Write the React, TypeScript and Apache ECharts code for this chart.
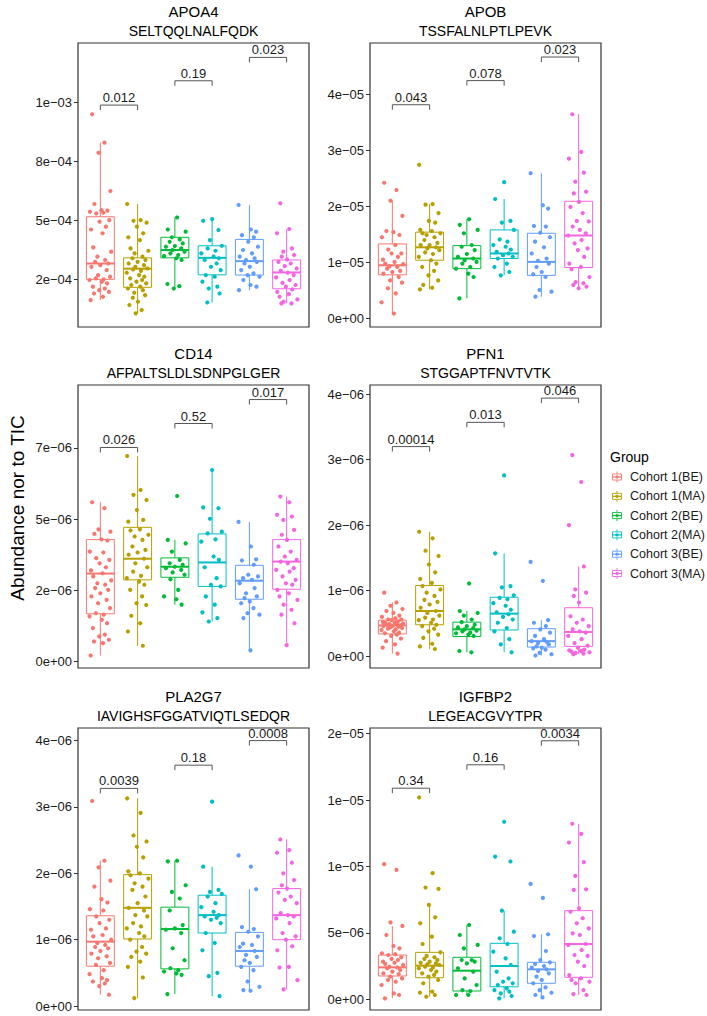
import React, { useEffect, useRef } from "react";
import * as echarts from "echarts";

const GROUPS = ["Cohort 1(BE)", "Cohort 1(MA)", "Cohort 2(BE)", "Cohort 2(MA)", "Cohort 3(BE)", "Cohort 3(MA)"];
const COLORS = ["#F8766D", "#B79F00", "#00BA38", "#00BFC4", "#619CFF", "#F564E3"];
const PAIRS = [[1, 2], [3, 4], [5, 6]];
// fixed horizontal jitter offsets (category units)
const JITTER = [-0.22, 0.11, -0.05, 0.27, -0.16, 0.03, 0.19, -0.28, 0.08, -0.11, 0.24, -0.02, 0.15, -0.25, 0.06, -0.19, 0.29, -0.08, 0.13, -0.14, 0.21, 0.0, -0.24, 0.17, -0.06, 0.26, -0.12, 0.09, -0.29, 0.04, 0.18, -0.2, 0.12, -0.03, 0.23, -0.17, 0.07, -0.26, 0.14, -0.09, 0.2, -0.13, 0.01];

// ---------- APOA4 (x1e-4) ----------
const APOA4_SCALE = 1e-4;
const APOA4_POINTS = [
  [9.48, 8.28, 7.85, 6.23, 5.68, 5.42, 5.4, 5.35, 5.31, 5.28, 5.0, 4.93, 4.72, 4.6, 4.44, 3.84, 3.66, 3.45, 3.31, 3.23, 3.16, 3.09, 3.02, 2.88, 2.67, 2.6, 2.53, 2.49, 2.46, 2.39, 2.32, 2.18, 2.1, 2.03, 1.96, 1.89, 1.75, 1.61],
  [5.68, 5.0, 4.97, 4.89, 4.72, 4.44, 4.27, 4.15, 3.8, 3.7, 3.59, 3.45, 3.38, 3.31, 3.23, 3.16, 3.09, 3.02, 2.95, 2.91, 2.85, 2.77, 2.67, 2.6, 2.53, 2.46, 2.39, 2.32, 2.25, 2.18, 2.1, 2.03, 1.92, 1.82, 1.71, 1.54, 1.4, 1.19, 1.05],
  [5.11, 4.6, 4.51, 4.27, 4.18, 4.08, 4.01, 3.9, 3.87, 3.8, 3.73, 3.66, 3.59, 3.52, 3.47, 3.38, 3.31, 2.29, 2.2, 2.1],
  [5.04, 4.97, 4.58, 4.15, 3.91, 3.8, 3.7, 3.59, 3.45, 3.38, 3.31, 3.16, 3.02, 2.88, 2.67, 2.6, 2.39, 2.18, 2.1, 1.89, 1.51],
  [5.64, 4.6, 4.51, 4.36, 4.27, 4.08, 3.87, 3.73, 3.59, 3.45, 3.38, 3.31, 3.23, 3.16, 3.02, 2.88, 2.74, 2.67, 2.6, 2.46, 2.25, 2.18, 2.03],
  [5.71, 4.62, 4.44, 3.8, 3.66, 3.52, 3.45, 3.33, 3.23, 3.16, 3.05, 2.95, 2.85, 2.77, 2.67, 2.57, 2.46, 2.34, 2.25, 2.18, 2.06, 1.96, 1.86, 1.75, 1.64, 1.54, 1.47, 1.47],
];
const APOA4_BOX = [[1.61, 2.49, 3.16, 5.14, 8.28], [1.05, 2.15, 2.94, 3.4, 5.68], [2.1, 3.4, 3.73, 4.27, 5.11], [1.51, 2.68, 3.4, 3.91, 5.04], [2.03, 2.67, 3.26, 4.18, 5.64], [1.47, 2.09, 2.78, 3.31, 4.62]];
const APOA4_BRACKET_Y = [9.87, 10.9, 11.89];
const APOA4_P = ["0.012", "0.19", "0.023"];
const APOA4_TICKS = [2.5, 5, 7.5, 10];
const APOA4_TICK_LABELS = ["2e\u221204", "5e\u221204", "8e\u221204", "1e\u221203"];
const APOA4_RANGE = [0.47, 12.5];

// ---------- APOB (x1e-5) ----------
const APOB_SCALE = 1e-5;
const APOB_POINTS = [
  [2.42, 2.29, 2.1, 1.83, 1.56, 1.54, 1.49, 1.45, 1.31, 1.23, 1.16, 1.16, 1.1, 1.05, 1.01, 0.98, 0.97, 0.93, 0.92, 0.89, 0.85, 0.83, 0.8, 0.74, 0.68, 0.64, 0.54, 0.45, 0.29, 0.09],
  [2.74, 2.04, 2.03, 1.88, 1.74, 1.71, 1.58, 1.56, 1.52, 1.52, 1.49, 1.45, 1.4, 1.35, 1.31, 1.31, 1.27, 1.25, 1.22, 1.18, 1.15, 1.1, 1.04, 0.98, 0.92, 0.85, 0.77, 0.68, 0.6, 0.55, 0.52],
  [1.77, 1.67, 1.58, 1.52, 1.31, 1.28, 1.22, 1.15, 1.1, 1.07, 1.04, 1.01, 0.98, 0.92, 0.89, 0.8, 0.74, 0.36],
  [2.43, 2.13, 1.74, 1.71, 1.58, 1.41, 1.37, 1.31, 1.28, 1.23, 1.19, 1.16, 1.13, 1.1, 1.07, 0.98, 0.92, 0.83, 0.77],
  [2.59, 2.02, 1.96, 1.65, 1.64, 1.53, 1.45, 1.37, 1.27, 1.16, 1.07, 1.03, 0.98, 0.92, 0.83, 0.79, 0.74, 0.51, 0.48, 0.39],
  [3.64, 2.97, 2.85, 2.6, 2.44, 2.26, 2.23, 2.08, 1.99, 1.88, 1.74, 1.73, 1.64, 1.58, 1.52, 1.48, 1.4, 1.34, 1.25, 1.22, 1.1, 0.98, 0.92, 0.88, 0.74, 0.65, 0.63, 0.6, 0.57, 0.54],
];
const APOB_BOX = [[0.09, 0.78, 0.95, 1.33, 2.1], [0.52, 1.04, 1.27, 1.54, 2.04], [0.36, 0.89, 1.07, 1.3, 1.77], [0.77, 1.07, 1.16, 1.58, 2.13], [0.39, 0.77, 1.01, 1.52, 2.59], [0.54, 0.91, 1.48, 2.09, 3.64]];
const APOB_BRACKET_Y = [3.81, 4.24, 4.66];
const APOB_P = ["0.043", "0.078", "0.023"];
const APOB_TICKS = [0, 1, 2, 3, 4];
const APOB_TICK_LABELS = ["0e+00", "1e\u221205", "2e\u221205", "3e\u221205", "4e\u221205"];
const APOB_RANGE = [-0.15, 4.91];

// ---------- CD14 (x1e-6) ----------
const CD14_SCALE = 1e-6;
const CD14_POINTS = [
  [5.59, 5.38, 4.64, 4.56, 4.48, 4.29, 4.25, 3.86, 3.83, 3.63, 3.57, 3.45, 3.31, 3.2, 3.1, 2.99, 2.85, 2.75, 2.7, 2.58, 2.52, 2.4, 2.29, 2.17, 2.05, 1.88, 1.7, 1.65, 1.59, 1.47, 1.35, 1.18, 0.95, 0.89, 0.77, 0.71, 0.65, 0.22],
  [7.21, 6.02, 5.85, 5.67, 5.32, 4.97, 4.91, 4.64, 4.6, 4.45, 4.39, 4.27, 4.04, 3.92, 3.83, 3.75, 3.61, 3.45, 3.31, 3.16, 3.01, 2.93, 2.81, 2.7, 2.52, 2.29, 2.05, 1.99, 1.61, 1.35, 1.06, 0.56],
  [5.81, 4.27, 4.15, 3.86, 3.57, 3.45, 3.4, 3.33, 3.28, 3.22, 3.13, 3.05, 2.89, 2.52, 2.29, 2.19, 2.0],
  [6.72, 5.41, 5.38, 5.01, 4.56, 4.5, 4.29, 4.21, 3.69, 3.57, 3.31, 2.93, 2.7, 2.64, 2.29, 2.0, 1.73, 1.53, 1.41],
  [4.9, 4.04, 3.59, 3.55, 3.4, 3.05, 2.99, 2.93, 2.87, 2.75, 2.58, 2.4, 2.29, 2.23, 2.11, 2.05, 1.88, 1.7, 1.65, 1.53, 0.4],
  [5.79, 5.59, 5.15, 5.09, 4.97, 4.62, 4.45, 4.27, 4.04, 3.86, 3.69, 3.57, 3.51, 3.45, 3.28, 3.22, 3.16, 2.99, 2.87, 2.75, 2.7, 2.52, 2.4, 2.29, 2.17, 2.0, 1.82, 1.65, 1.35, 0.58],
];
const CD14_BOX = [[0.22, 1.68, 3.09, 4.28, 5.59], [0.56, 2.87, 3.61, 4.71, 7.21], [2.0, 2.96, 3.33, 3.64, 4.27], [1.41, 2.64, 3.48, 4.48, 6.72], [0.4, 2.19, 2.84, 3.38, 4.9], [0.58, 2.54, 3.51, 4.28, 5.79]];
const CD14_BRACKET_Y = [7.51, 8.35, 9.19];
const CD14_P = ["0.026", "0.52", "0.017"];
const CD14_TICKS = [0, 2.5, 5, 7.5];
const CD14_TICK_LABELS = ["0e+00", "2e\u221206", "5e\u221206", "7e\u221206"];
const CD14_RANGE = [-0.22, 9.7];

// ---------- PFN1 (x1e-6) ----------
const PFN1_SCALE = 1e-6;
const PFN1_POINTS = [
  [0.97, 0.82, 0.77, 0.72, 0.69, 0.66, 0.62, 0.6, 0.58, 0.56, 0.56, 0.55, 0.53, 0.52, 0.51, 0.51, 0.5, 0.49, 0.48, 0.48, 0.47, 0.46, 0.46, 0.45, 0.44, 0.43, 0.42, 0.41, 0.4, 0.38, 0.36, 0.35, 0.33, 0.31, 0.27, 0.23, 0.18, 0.13, 0.04],
  [1.9, 1.8, 1.61, 1.53, 1.4, 1.28, 1.18, 1.12, 1.07, 1.02, 0.97, 0.92, 0.86, 0.83, 0.79, 0.74, 0.69, 0.66, 0.62, 0.59, 0.56, 0.55, 0.51, 0.48, 0.46, 0.42, 0.38, 0.33, 0.28, 0.19, 0.15, 0.11],
  [1.11, 0.69, 0.66, 0.62, 0.56, 0.52, 0.48, 0.46, 0.44, 0.43, 0.41, 0.39, 0.38, 0.36, 0.35, 0.33, 0.31, 0.08, 0.06],
  [2.76, 1.57, 1.07, 1.05, 0.93, 0.89, 0.87, 0.81, 0.77, 0.71, 0.67, 0.64, 0.6, 0.56, 0.51, 0.43, 0.38, 0.26, 0.18, 0.06],
  [1.44, 1.15, 0.55, 0.51, 0.46, 0.41, 0.36, 0.31, 0.26, 0.23, 0.22, 0.2, 0.18, 0.15, 0.13, 0.12, 0.1, 0.05, 0.03, 0.01],
  [3.07, 2.66, 2.0, 1.37, 1.02, 0.97, 0.92, 0.82, 0.61, 0.56, 0.51, 0.46, 0.41, 0.38, 0.36, 0.31, 0.26, 0.2, 0.16, 0.13, 0.1, 0.09, 0.08, 0.07, 0.06, 0.05, 0.04, 0.03],
];
const PFN1_BOX = [[0.04, 0.34, 0.47, 0.55, 0.82], [0.11, 0.48, 0.69, 1.08, 1.9], [0.06, 0.3, 0.41, 0.52, 0.69], [0.06, 0.4, 0.65, 0.9, 1.57], [0.01, 0.14, 0.23, 0.42, 0.55], [0.03, 0.15, 0.37, 0.74, 1.37]];
const PFN1_BRACKET_Y = [3.2, 3.57, 3.94];
const PFN1_P = ["0.00014", "0.013", "0.046"];
const PFN1_TICKS = [0, 1, 2, 3, 4];
const PFN1_TICK_LABELS = ["0e+00", "1e\u221206", "2e\u221206", "3e\u221206", "4e\u221206"];
const PFN1_RANGE = [-0.18, 4.14];

// ---------- PLA2G7 (x1e-6) ----------
const PLA2G7_SCALE = 1e-6;
const PLA2G7_POINTS = [
  [3.09, 2.19, 2.09, 1.89, 1.8, 1.61, 1.56, 1.46, 1.44, 1.35, 1.3, 1.25, 1.17, 1.15, 1.07, 1.05, 1.0, 0.95, 0.92, 0.89, 0.87, 0.83, 0.79, 0.75, 0.72, 0.65, 0.62, 0.54, 0.48, 0.42, 0.39, 0.37, 0.34, 0.3, 0.17],
  [3.13, 2.91, 2.57, 2.48, 2.4, 2.24, 2.03, 2.0, 1.97, 1.92, 1.85, 1.8, 1.75, 1.65, 1.55, 1.48, 1.44, 1.37, 1.35, 1.25, 1.2, 1.17, 1.1, 1.05, 1.0, 0.89, 0.82, 0.79, 0.74, 0.67, 0.59, 0.43, 0.12],
  [2.19, 2.18, 1.82, 1.72, 1.62, 1.44, 1.22, 1.17, 1.15, 1.1, 0.87, 0.69, 0.57, 0.54, 0.52, 0.49, 0.47, 0.18],
  [3.08, 2.1, 1.75, 1.72, 1.69, 1.65, 1.55, 1.49, 1.42, 1.37, 1.35, 1.33, 1.3, 1.25, 1.1, 0.95, 0.84, 0.5, 0.45, 0.15],
  [2.27, 2.1, 1.76, 1.19, 1.16, 1.12, 1.05, 0.94, 0.92, 0.89, 0.83, 0.77, 0.74, 0.69, 0.65, 0.59, 0.54, 0.37, 0.29, 0.24, 0.23],
  [2.51, 2.35, 2.31, 2.16, 2.0, 1.9, 1.82, 1.77, 1.71, 1.65, 1.6, 1.55, 1.4, 1.37, 1.35, 1.32, 1.25, 1.1, 1.05, 1.0, 0.9, 0.84, 0.59, 0.58, 0.39, 0.25],
];
const PLA2G7_BOX = [[0.17, 0.6, 0.97, 1.36, 2.19], [0.12, 1.01, 1.48, 1.98, 3.13], [0.18, 0.56, 1.16, 1.49, 2.19], [0.15, 1.1, 1.37, 1.67, 2.1], [0.23, 0.6, 0.83, 1.11, 1.76], [0.25, 1.0, 1.37, 1.77, 2.51]];
const PLA2G7_BRACKET_Y = [3.28, 3.63, 4.0];
const PLA2G7_P = ["0.0039", "0.18", "0.0008"];
const PLA2G7_TICKS = [0, 1, 2, 3, 4];
const PLA2G7_TICK_LABELS = ["0e+00", "1e\u221206", "2e\u221206", "3e\u221206", "4e\u221206"];
const PLA2G7_RANGE = [-0.06, 4.19];

// ---------- IGFBP2 (x1e-6) ----------
const IGFBP2_SCALE = 1e-6;
const IGFBP2_POINTS = [
  [10.18, 9.75, 5.8, 5.53, 4.85, 4.02, 3.84, 3.47, 3.4, 3.34, 3.17, 3.05, 2.96, 2.84, 2.76, 2.66, 2.59, 2.46, 2.4, 2.34, 2.21, 2.09, 1.96, 1.91, 1.71, 1.58, 1.46, 1.33, 1.08, 0.45, 0.33, 0.08],
  [15.2, 9.5, 8.42, 8.32, 7.11, 6.18, 5.73, 4.72, 4.17, 3.54, 3.27, 3.17, 3.05, 2.96, 2.84, 2.76, 2.71, 2.64, 2.59, 2.46, 2.4, 2.34, 2.21, 2.09, 1.96, 1.84, 1.71, 1.46, 1.21, 0.58, 0.5, 0.33, 0.2],
  [5.6, 4.85, 4.1, 3.84, 2.96, 2.96, 2.84, 2.71, 2.34, 2.09, 1.58, 1.08, 0.7, 0.63, 0.33, 0.33],
  [13.37, 10.75, 10.38, 6.68, 5.1, 4.6, 4.17, 3.59, 3.09, 2.59, 2.09, 1.58, 1.33, 1.21, 1.08, 0.83, 0.7, 0.58, 0.45, 0.25, 0.08],
  [8.69, 7.64, 4.9, 4.77, 3.64, 2.96, 2.79, 2.66, 2.51, 2.39, 2.26, 2.14, 1.96, 1.71, 1.46, 1.21, 0.9, 0.7, 0.5, 0.33, 0.15],
  [13.22, 12.46, 11.81, 10.33, 9.3, 8.29, 8.24, 6.86, 6.61, 6.11, 5.73, 5.35, 4.97, 4.85, 4.17, 4.1, 3.72, 3.34, 3.27, 2.84, 2.51, 1.83, 1.58, 1.46, 1.33, 1.21, 0.7, 0.4, 0.33],
];
const IGFBP2_BOX = [[0.08, 1.76, 2.41, 3.34, 5.53], [0.2, 1.63, 2.54, 3.54, 7.11], [0.33, 0.63, 2.16, 3.17, 5.6], [0.08, 0.95, 2.51, 4.22, 6.68], [0.15, 1.21, 2.26, 2.79, 4.9], [0.33, 1.66, 4.17, 6.68, 13.22]];
const IGFBP2_BRACKET_Y = [15.9, 17.66, 19.47];
const IGFBP2_P = ["0.34", "0.16", "0.0034"];
const IGFBP2_TICKS = [0, 5, 10, 15, 20];
const IGFBP2_TICK_LABELS = ["0e+00", "5e\u221206", "1e\u221205", "1e\u221205", "2e\u221205"];
const IGFBP2_RANGE = [-0.8, 20.43];

const PANELS = [
  { protein: "APOA4", peptide: "SELTQQLNALFQDK", scale: APOA4_SCALE, points: APOA4_POINTS, box: APOA4_BOX, brackets: APOA4_BRACKET_Y, pvals: APOA4_P, ticks: APOA4_TICKS, tickLabels: APOA4_TICK_LABELS, range: APOA4_RANGE },
  { protein: "APOB", peptide: "TSSFALNLPTLPEVK", scale: APOB_SCALE, points: APOB_POINTS, box: APOB_BOX, brackets: APOB_BRACKET_Y, pvals: APOB_P, ticks: APOB_TICKS, tickLabels: APOB_TICK_LABELS, range: APOB_RANGE },
  { protein: "CD14", peptide: "AFPALTSLDLSDNPGLGER", scale: CD14_SCALE, points: CD14_POINTS, box: CD14_BOX, brackets: CD14_BRACKET_Y, pvals: CD14_P, ticks: CD14_TICKS, tickLabels: CD14_TICK_LABELS, range: CD14_RANGE },
  { protein: "PFN1", peptide: "STGGAPTFNVTVTK", scale: PFN1_SCALE, points: PFN1_POINTS, box: PFN1_BOX, brackets: PFN1_BRACKET_Y, pvals: PFN1_P, ticks: PFN1_TICKS, tickLabels: PFN1_TICK_LABELS, range: PFN1_RANGE },
  { protein: "PLA2G7", peptide: "IAVIGHSFGGATVIQTLSEDQR", scale: PLA2G7_SCALE, points: PLA2G7_POINTS, box: PLA2G7_BOX, brackets: PLA2G7_BRACKET_Y, pvals: PLA2G7_P, ticks: PLA2G7_TICKS, tickLabels: PLA2G7_TICK_LABELS, range: PLA2G7_RANGE },
  { protein: "IGFBP2", peptide: "LEGEACGVYTPR", scale: IGFBP2_SCALE, points: IGFBP2_POINTS, box: IGFBP2_BOX, brackets: IGFBP2_BRACKET_Y, pvals: IGFBP2_P, ticks: IGFBP2_TICKS, tickLabels: IGFBP2_TICK_LABELS, range: IGFBP2_RANGE },
];

// layout
const GRID_LEFTS = [78, 370];
const GRID_TOPS = [43, 385, 728];
const GRID_HEIGHTS = [284, 283, 282];
const GRID_WIDTH = 231;
const FONT = "'Liberation Sans', Arial, Helvetica, sans-serif";

function buildOption() {
  const grid: any[] = [];
  const xAxis: any[] = [];
  const yAxis: any[] = [];
  const series: any[] = [];
  const graphic: any[] = [];

  PANELS.forEach((pn, p) => {
    const row = Math.floor(p / 2);
    const col = p % 2;
    const left = GRID_LEFTS[col];
    const top = GRID_TOPS[row];
    const height = GRID_HEIGHTS[row];
    grid.push({ left, top, width: GRID_WIDTH, height, show: true, borderColor: "#333", borderWidth: 1.2, backgroundColor: "transparent" });
    xAxis.push({ gridIndex: p, type: "value", min: 0.4, max: 6.6, show: false });
    const tickVals = pn.ticks.map((t) => t * pn.scale);
    yAxis.push({
      gridIndex: p,
      type: "value",
      min: pn.range[0] * pn.scale,
      max: pn.range[1] * pn.scale,
      splitLine: { show: false },
      axisLine: { show: false, onZero: false },
      axisTick: { show: true, length: 4, lineStyle: { color: "#333", width: 1 }, customValues: tickVals },
      axisLabel: {
        customValues: tickVals,
        margin: 6,
        fontSize: 13,
        color: "#1a1a1a",
        fontFamily: FONT,
        formatter: (v: number) => {
          const i = tickVals.findIndex((t) => Math.abs(t - v) < pn.scale * 1e-4);
          return i >= 0 ? pn.tickLabels[i] : "";
        },
      },
    });

    // boxes
    series.push({
      type: "custom",
      xAxisIndex: p,
      yAxisIndex: p,
      z: 2,
      encode: { x: 0, y: [1, 2, 3, 4, 5] },
      data: pn.box.map((b, g) => [g + 1, ...b.map((v) => v * pn.scale)]),
      renderItem: (params: any, api: any) => {
        const x = api.value(0);
        const lo = api.coord([x, api.value(1)]);
        const q1 = api.coord([x, api.value(2)]);
        const md = api.coord([x, api.value(3)]);
        const q3 = api.coord([x, api.value(4)]);
        const hi = api.coord([x, api.value(5)]);
        const hw = api.size([0.75, 0])[0] / 2;
        const cx = lo[0];
        const color = COLORS[params.dataIndex];
        return {
          type: "group",
          children: [
            { type: "line", shape: { x1: cx, y1: hi[1], x2: cx, y2: q3[1] }, style: { stroke: color, lineWidth: 1 } },
            { type: "line", shape: { x1: cx, y1: q1[1], x2: cx, y2: lo[1] }, style: { stroke: color, lineWidth: 1 } },
            { type: "rect", shape: { x: cx - hw, y: q3[1], width: hw * 2, height: q1[1] - q3[1] }, style: { fill: "#fff", stroke: color, lineWidth: 1 } },
            { type: "line", shape: { x1: cx - hw, y1: md[1], x2: cx + hw, y2: md[1] }, style: { stroke: color, lineWidth: 2 } },
          ],
        };
      },
    });

    // jittered points
    pn.points.forEach((vals, g) => {
      series.push({
        type: "scatter",
        name: GROUPS[g],
        xAxisIndex: p,
        yAxisIndex: p,
        z: 3,
        symbolSize: 4.2,
        itemStyle: { color: COLORS[g], opacity: 1 },
        data: vals.map((v, i) => [g + 1 + JITTER[(i + g * 7) % JITTER.length], v * pn.scale]),
      });
    });

    // p-value brackets
    series.push({
      type: "custom",
      xAxisIndex: p,
      yAxisIndex: p,
      z: 4,
      encode: { x: [0, 1], y: 2 },
      data: pn.brackets.map((y, k) => [PAIRS[k][0], PAIRS[k][1], y * pn.scale]),
      renderItem: (params: any, api: any) => {
        const a = api.coord([api.value(0), api.value(2)]);
        const b = api.coord([api.value(1), api.value(2)]);
        const y = a[1];
        return {
          type: "group",
          children: [
            { type: "polyline", shape: { points: [[a[0], y + 5], [a[0], y], [b[0], y], [b[0], y + 5]] }, style: { stroke: "#555", lineWidth: 1, fill: "none" } },
            { type: "text", x: (a[0] + b[0]) / 2, y: y - 1, style: { text: pn.pvals[params.dataIndex], fill: "#1a1a1a", fontSize: 13, fontFamily: FONT, align: "center", verticalAlign: "bottom" } },
          ],
        };
      },
    });

    // titles
    const cx = left + GRID_WIDTH / 2;
    graphic.push({ type: "text", x: cx, y: top - 32, style: { text: pn.protein, fontSize: 15, fontFamily: FONT, fill: "#000", align: "center", verticalAlign: "middle" } });
    graphic.push({ type: "text", x: cx, y: top - 12, style: { text: pn.peptide, fontSize: 14, fontFamily: FONT, fill: "#000", align: "center", verticalAlign: "middle" } });
  });

  // y axis title
  graphic.push({ type: "text", x: 17, y: 508, rotation: Math.PI / 2, style: { text: "Abundance nor to TIC", fontSize: 19, fontFamily: FONT, fill: "#000", align: "center", verticalAlign: "middle" } });

  // legend
  graphic.push({ type: "text", x: 610, y: 457, style: { text: "Group", fontSize: 14, fontFamily: FONT, fill: "#000", align: "left", verticalAlign: "middle" } });
  GROUPS.forEach((name, g) => {
    const cy = 477 + g * 19.3;
    const kx = 617;
    const c = COLORS[g];
    graphic.push({
      type: "group",
      children: [
        { type: "line", shape: { x1: kx, y1: cy - 5.5, x2: kx, y2: cy + 5.5 }, style: { stroke: c, lineWidth: 0.9 } },
        { type: "rect", shape: { x: kx - 4.5, y: cy - 3, width: 9, height: 6 }, style: { fill: "#fff", stroke: c, lineWidth: 0.9 } },
        { type: "line", shape: { x1: kx - 4.5, y1: cy, x2: kx + 4.5, y2: cy }, style: { stroke: c, lineWidth: 1.2 } },
        { type: "circle", shape: { cx: kx, cy, r: 1.6 }, style: { fill: c } },
      ],
    });
    graphic.push({ type: "text", x: 630, y: cy, style: { text: name, fontSize: 12.5, fontFamily: FONT, fill: "#1a1a1a", align: "left", verticalAlign: "middle" } });
  });

  return {
    animation: false,
    backgroundColor: "#fff",
    textStyle: { fontFamily: FONT },
    grid,
    xAxis,
    yAxis,
    series,
    graphic,
  };
}

export default function App() {
  const ref = useRef<HTMLDivElement>(null);
  useEffect(() => {
    if (!ref.current) return;
    const chart = echarts.init(ref.current, null, { renderer: "svg" });
    chart.setOption(buildOption() as any);
    return () => chart.dispose();
  }, []);
  return <div ref={ref} style={{ position: "fixed", left: 0, top: 0, width: 707, height: 1016, background: "#fff" }} />;
}
